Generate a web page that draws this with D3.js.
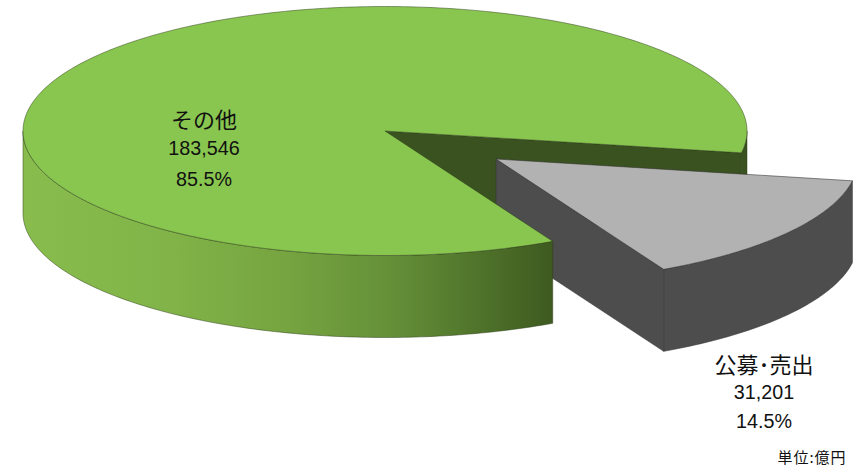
<!DOCTYPE html>
<html lang="ja">
<head>
<meta charset="utf-8">
<script src="https://cdn.jsdelivr.net/npm/d3@7"></script>
<style>
  html, body { margin: 0; padding: 0; background: #fff; }
  svg { display: block; }
  text { fill: #111; text-anchor: middle; dominant-baseline: central; }
  .jp { font-family: "Noto Sans CJK JP", sans-serif; }
  .num { font-family: "Liberation Sans", sans-serif; }
</style>
</head>
<body>
<svg id="chart" width="865" height="466"></svg>
<script>
// Share of funding by category (unit: 億円)
const categories = ["その他", "公募･売出"];
const amounts = [183546, 31201];
const shares = ["85.5%", "14.5%"];
const unitLabel = "単位:億円";

// Tilted-disc geometry
const cx = 385, cy = 131, rx = 362, ry = 124.5, depth = 82;
const explode = { x: 111, y: 28 };
const startDeg = 152.4;

const svg = d3.select("#chart");

const arcs = d3.pie().sort(null).value(d => d)
  .startAngle(startDeg * Math.PI / 180)
  .endAngle(startDeg * Math.PI / 180 + 2 * Math.PI)(amounts);
const [major, minor] = arcs;

// Flatten the circle into an ellipse: pie angle 0 is at twelve o'clock
const px = a => rx * Math.sin(a);
const py = a => -ry * Math.cos(a);
const ring = (a0, a1) => {
  const n = Math.max(2, Math.ceil(Math.abs(a1 - a0) * 60));
  return d3.range(n + 1).map(i => {
    const a = a0 + (a1 - a0) * i / n;
    return [px(a), py(a)];
  });
};
const line = d3.line();
const shift = (pts, dy) => pts.map(([x, y]) => [x, y + dy]);
const band = pts => line([...pts, ...shift(pts, depth).reverse()]) + "Z";
const wedge = (a0, a1) => line([[0, 0], ...ring(a0, a1)]) + "Z";

// Rim shading runs from light on the left to dark at the cut
const defs = svg.append("defs");
const grad = defs.append("linearGradient").attr("id", "rim")
  .attr("gradientUnits", "userSpaceOnUse")
  .attr("x1", -rx).attr("x2", px(major.startAngle)).attr("y1", 0).attr("y2", 0);
[[0, "#88bc4d"], [0.25, "#82b549"], [0.5, "#76a440"], [0.7, "#648f38"], [0.88, "#4d7029"], [1, "#3e5a20"]]
  .forEach(([o, c]) => grad.append("stop").attr("offset", o).attr("stop-color", c));

const edge = { stroke: "#2a3a18", "stroke-width": 0.8, "stroke-opacity": 0.6, "stroke-linejoin": "round" };
const edgeGrey = { stroke: "#333", "stroke-width": 0.8, "stroke-opacity": 0.7, "stroke-linejoin": "round" };
const style = (sel, o) => { Object.entries(o).forEach(([k, v]) => sel.attr(k, v)); return sel; };

const mainG = svg.append("g").attr("transform", `translate(${cx},${cy})`);
const sliceG = svg.append("g").attr("transform", `translate(${cx + explode.x},${cy + explode.y})`);
const mainFront = svg.append("g").attr("transform", `translate(${cx},${cy})`);

// Inner cut wall of the large slice and the short rim behind the detached slice
const endA = major.endAngle;
const endPt = [px(endA), py(endA)];
style(mainG.append("path")
  .attr("d", band([[0, 0], endPt]))
  .attr("fill", "#3a5220"), edge);
style(mainG.append("path")
  .attr("d", band(ring(2 * Math.PI + Math.PI / 2, endA)))
  .attr("fill", "#3a5220"), edge);

// Detached slice: cut wall, outer rim, top
const a0 = minor.startAngle, a1 = minor.endAngle;
style(sliceG.append("path")
  .attr("d", band([[0, 0], [px(a1), py(a1)]]))
  .attr("fill", "#4d4d4d"), edgeGrey);
style(sliceG.append("path")
  .attr("d", band(ring(a0, a1)))
  .attr("fill", "#4d4d4d"), edgeGrey);
style(sliceG.append("path")
  .attr("d", wedge(a0, a1))
  .attr("fill", "#b2b2b2"), edgeGrey);

// Large slice: front rim and top surface
style(mainFront.append("path")
  .attr("d", band(ring(major.startAngle, 1.5 * Math.PI)))
  .attr("fill", "url(#rim)"), edge);
style(mainFront.append("path")
  .attr("d", wedge(major.startAngle, major.endAngle))
  .attr("fill", "#89c64f"), edge);

// Labels; the figures use a slightly condensed setting of the sans face
const condensed = (x, y) => `translate(${x},${y}) scale(0.94,1)`;
const labels = [
  { i: 0, x: 204, ys: [118, 148, 179], nameSize: 22 },
  { i: 1, x: 764, ys: [363, 392, 421], nameSize: 22 }
];
labels.forEach(l => {
  svg.append("text").attr("class", "jp").attr("x", l.x).attr("y", l.ys[0])
    .attr("font-size", l.nameSize).text(categories[l.i]);
  svg.append("text").attr("class", "num").attr("transform", condensed(l.x, l.ys[1]))
    .attr("font-size", 21).text(d3.format(",")(amounts[l.i]));
  svg.append("text").attr("class", "num").attr("transform", condensed(l.x, l.ys[2]))
    .attr("font-size", 21).text(shares[l.i]);
});
svg.append("text").attr("class", "jp").attr("x", 812).attr("y", 456)
  .attr("font-size", 15).attr("letter-spacing", 1).text(unitLabel);
</script>
</body>
</html>
